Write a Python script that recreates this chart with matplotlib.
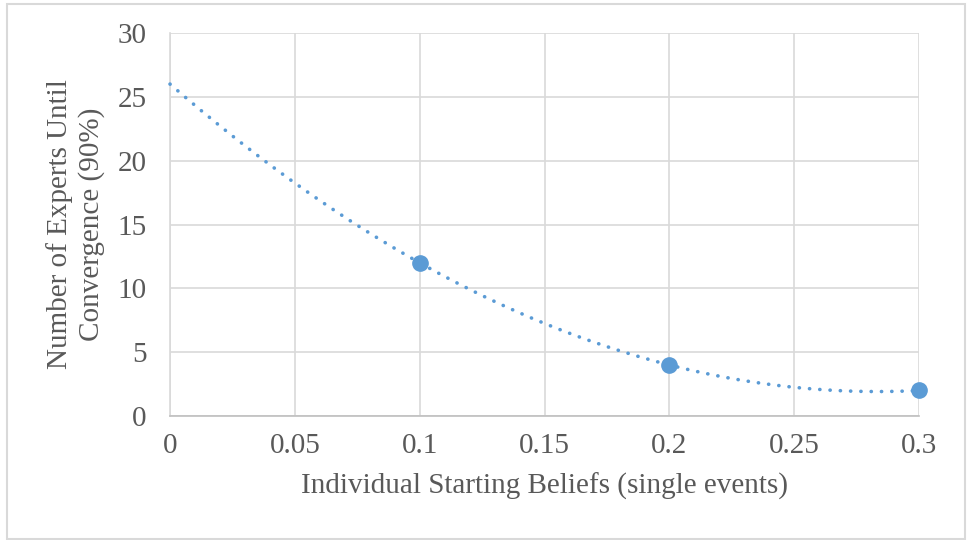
import matplotlib.pyplot as plt
import matplotlib.patches as patches
import numpy as np

starting_beliefs = [0.1, 0.2, 0.3]
experts_needed = [12, 4, 2]

x_ticks = [0, 0.05, 0.1, 0.15, 0.2, 0.25, 0.3]
x_tick_labels = ["0", "0.05", "0.1", "0.15", "0.2", "0.25", "0.3"]
y_ticks = [0, 5, 10, 15, 20, 25, 30]

blue = "#5B9BD5"
grey_text = "#595959"
grid_col = "#D9D9D9"

plt.rcParams["font.family"] = ["Liberation Serif", "DejaVu Serif"]

fig = plt.figure(figsize=(9.67, 5.4), dpi=100)
ax = fig.add_axes([0.1758, 0.2296, 0.7746, 0.7093])

# polynomial (order 2) trendline, like Excel's
coef = np.polyfit(starting_beliefs, experts_needed, 2)
xs = np.linspace(0, 0.3, 300)
ax.plot(xs, np.polyval(coef, xs), color=blue, lw=2.6, linestyle=(0, (0.05, 2.8)),
        dash_capstyle="round", zorder=3, clip_on=False)
ax.plot(starting_beliefs, experts_needed, "o", color=blue, markersize=11,
        zorder=4, clip_on=False)

ax.set_xlim(0, 0.3)
ax.set_ylim(0, 30)
ax.set_xticks(x_ticks)
ax.set_xticklabels(x_tick_labels)
ax.set_yticks(y_ticks)
ax.grid(True, color=grid_col, lw=1.2)
ax.set_axisbelow(True)
for s in ["top", "right"]:
    ax.spines[s].set_visible(False)
ax.spines["left"].set_color(grid_col)
ax.spines["bottom"].set_color("#BFBFBF")
ax.spines["left"].set_linewidth(1.2)
ax.spines["bottom"].set_linewidth(1.2)
ax.tick_params(length=0, labelsize=21, colors=grey_text)
ax.tick_params(axis="y", pad=17)
ax.tick_params(axis="x", pad=12)

ax.set_xlabel("Individual Starting Beliefs (single events)", fontsize=21,
              color=grey_text, labelpad=10)
ax.set_ylabel("Number of Experts Until\nConvergence (90%)", fontsize=21,
              color=grey_text, labelpad=9, linespacing=1.25)

fig.patches.append(patches.Rectangle((7 / 967, 1 / 540), 958 / 967, 535 / 540,
                                     transform=fig.transFigure, fill=False,
                                     edgecolor="#D9D9D9", lw=1.5))

plt.savefig("out.png", dpi=100)
plt.close()
